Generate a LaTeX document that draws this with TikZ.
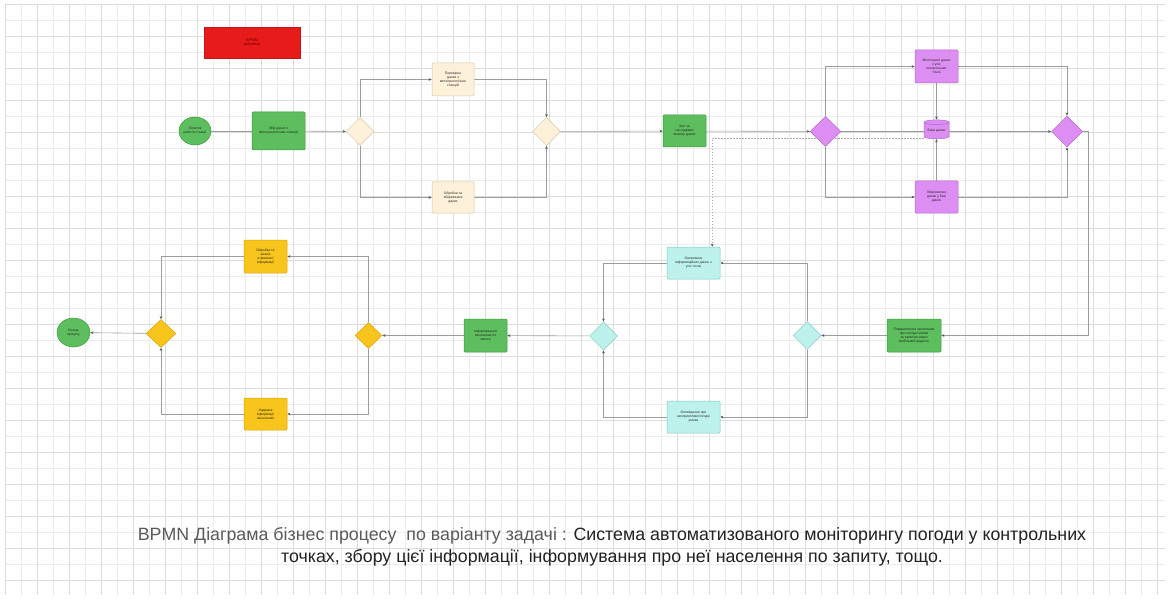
\documentclass[tikz,border=0pt]{standalone}
\usepackage{fontspec}
\setmainfont{Liberation Sans}
\usetikzlibrary{shapes.geometric,arrows.meta}
\definecolor{gfill}{HTML}{5DBE5D}
\definecolor{gline}{HTML}{3F9A3F}
\definecolor{bfill}{HTML}{FDF1DA}
\definecolor{bline}{HTML}{D8C8A2}
\definecolor{pfill}{HTML}{DC8EF2}
\definecolor{pline}{HTML}{B068C8}
\definecolor{cfill}{HTML}{BDF1EC}
\definecolor{cline}{HTML}{82C9C3}
\definecolor{yfill}{HTML}{F8C51C}
\definecolor{yline}{HTML}{D9A406}
\definecolor{rfill}{HTML}{E81B1B}
\definecolor{flowc}{HTML}{9C9C9C}
\definecolor{tipc}{HTML}{555555}
\definecolor{gridc}{HTML}{ECECEC}
\definecolor{gridm}{HTML}{DCDCDC}
\definecolor{captg}{HTML}{5A5A5A}
\definecolor{captd}{HTML}{222222}
\pgfdeclarelayer{bg}
\pgfdeclarelayer{edges}
\pgfsetlayers{bg,edges,main}
\begin{document}
\begin{tikzpicture}[x=1pt,y=-1pt,
  txt/.style={font=\fontsize{3.4}{4}\selectfont, text=black!85, align=center, inner sep=0.5pt},
  task/.style={txt, draw, rounded corners=1pt, line width=0.5pt},
  gtask/.style={task, fill=gfill, draw=gline},
  btask/.style={task, fill=bfill, draw=bline},
  ptask/.style={task, fill=pfill, draw=pline},
  ctask/.style={task, fill=cfill, draw=cline},
  ytask/.style={task, fill=yfill, draw=yline},
  gate/.style={diamond, draw, line width=0.5pt, minimum width=28pt, minimum height=28pt, inner sep=0pt},
  event/.style={txt, ellipse, fill=gfill, draw=gline, line width=0.5pt, inner sep=0pt},
  flow/.style={draw=flowc, line width=0.6pt, -{Stealth[length=3.2pt,width=2.6pt,color=tipc]}},
  plain/.style={draw=flowc, line width=0.6pt},
  assoc/.style={draw=flowc!85, line width=0.5pt, dash pattern=on 1.5pt off 1.5pt, -{Stealth[length=3.2pt,width=2.6pt,color=tipc]}}
]
\useasboundingbox (0,0) rectangle (1168,599);
\begin{pgfonlayer}{bg}
\fill[white] (0,0) rectangle (1168,599);
\foreach \x in {5,21,...,1165} \draw[gridc, line width=0.4pt] (\x,4) -- (\x,595);
\foreach \y in {4,20,...,595} \draw[gridc, line width=0.4pt] (5,\y) -- (1165,\y);
\foreach \x in {5,37,...,1165} \draw[gridm, line width=0.5pt] (\x,4) -- (\x,595);
\foreach \y in {4,36,...,595} \draw[gridm, line width=0.5pt] (5,\y) -- (1165,\y);
\end{pgfonlayer}

% title box
\node[fill=rfill, draw=rfill!85!black, minimum width=96pt, minimum height=31pt, font=\fontsize{4}{4.8}\selectfont, text=red!45!black, align=center] (title) at (252,42.5) {BPMN\\діаграма};

% top row
\node[event, minimum width=32pt, minimum height=28pt] (start) at (195,131) {Початок\\роботи станції};
\node[gtask, minimum width=53pt, minimum height=38pt] (g1) at (278.5,131) {Збір даних з\\метеорологічних станцій};
\node[gate, fill=bfill, draw=bline] (d1) at (360,131.5) {};
\node[btask, minimum width=42pt, minimum height=33pt] (b1) at (453,79.5) {Перевірка\\даних з\\метеорологічних\\станцій};
\node[btask, minimum width=42pt, minimum height=31pt] (b2) at (453,197.5) {Обробка та\\збереження\\даних};
\node[gate, fill=bfill, draw=bline] (d2) at (546.5,131.5) {};
\node[gtask, minimum width=43pt, minimum height=32pt] (g2) at (684.5,131) {Звіт за\\наслідками\\аналізу даних};
\node[gate, fill=pfill, draw=pline, minimum width=31pt, minimum height=30pt] (pd1) at (825.5,131.5) {};
\node[ptask, minimum width=43pt, minimum height=33pt] (p1) at (936.5,66.5) {Моніторинг даних\\з усіх\\контрольних\\точок};
\node[cylinder, shape border rotate=90, aspect=0.25, fill=pfill, draw=pline, line width=0.5pt, minimum width=25pt, minimum height=19pt, txt] (cyl) at (936.5,131) {База даних};
\node[ptask, minimum width=43pt, minimum height=32pt] (p2) at (936.5,197) {Збереження\\даних у базі\\даних};
\node[gate, fill=pfill, draw=pline, minimum width=31pt, minimum height=31pt] (pd2) at (1067,131.5) {};
\coordinate (c1) at (1088,131.5);

% bottom row
\node[gtask, minimum width=54pt, minimum height=33pt] (g3) at (914,335.5) {Повідомлення населенню\\про погодні умови\\за запитом через\\мобільний додаток};
\node[gate, fill=cfill, draw=cline] (cd2) at (807,335.5) {};
\node[ctask, minimum width=53pt, minimum height=32pt] (cy1) at (693.5,263) {Оновлення\\інформаційних даних з\\усіх точок};
\node[ctask, minimum width=53pt, minimum height=32pt] (cy2) at (693.5,417) {Оповіщення про\\несприятливі погодні\\умови};
\node[gate, fill=cfill, draw=cline] (cd1) at (603.5,336) {};
\node[gtask, minimum width=43pt, minimum height=33pt] (g4) at (485.5,335.5) {Інформування\\населення по\\запиту};
\node[gate, fill=yfill, draw=yline, minimum width=27pt, minimum height=26pt] (yd2) at (368.5,335.5) {};
\node[ytask, minimum width=43pt, minimum height=33pt] (y1) at (265.5,256.5) {Обробка та\\аналіз\\отриманої\\інформації};
\node[ytask, minimum width=43pt, minimum height=32pt] (y2) at (265.5,414) {Надання\\інформації\\населенню};
\node[gate, fill=yfill, draw=yline, minimum width=30pt, minimum height=28pt] (yd1) at (161,333.5) {};
\node[event, minimum width=33pt, minimum height=29pt] (end) at (73.5,332.5) {Кінець\\процесу};

% connectors
\begin{pgfonlayer}{edges}
\draw[plain] (start) -- (g1);
\draw[flow] (g1) -- (d1);
\draw[flow] (d1.north) |- (b1.west);
\draw[flow] (d1.south) |- (b2.west);
\draw[flow] (b1.east) -| (d2.north);
\draw[flow] (b2.east) -| (d2.south);
\draw[flow] (d2) -- (g2);
\draw[flow] (g2) -- (pd1);
\draw[flow] (pd1.north) |- (p1.west);
\draw[flow] (pd1.south) |- (p2.west);
\draw[flow] (pd1.east) -- (pd2.west);
\draw[flow] (p1.south) -- (cyl.north);
\draw[flow] (p2.north) -- (cyl.south);
\draw[flow] (p1.east) -| (pd2.north);
\draw[flow] (p2.east) -| (pd2.south);
\draw[flow] (pd2.east) -- (c1) |- (g3.east);
\draw[flow] (g3) -- (cd2);
\draw[flow] (cd2.north) |- (cy1.east);
\draw[flow] (cd2.south) |- (cy2.east);
\draw[flow] (cy1.west) -| (cd1.north);
\draw[flow] (cy2.west) -| (cd1.south);
\draw[flow] (cd1) -- (g4);
\draw[flow] (g4) -- (yd2);
\draw[flow] (yd2.north) |- (y1.east);
\draw[flow] (yd2.south) |- (y2.east);
\draw[flow] (y1.west) -| (yd1.north);
\draw[flow] (y2.west) -| (yd1.south);
\draw[flow] (yd1) -- (end);
\draw[assoc] ([yshift=-7pt]cyl.west) -| ([xshift=-8pt]cy1.north east);
\end{pgfonlayer}

% caption
\node[font=\fontsize{17.8}{22}\selectfont, align=center, text=captd, inner sep=0pt] (caption) at (612,547) {{\color{captg}BPMN Діаграма бізнес процесу\ \ по варіанту задачі :} Система автоматизованого моніторингу погоди у контрольних\\точках, збору цієї інформації, інформування про неї населення по запиту, тощо.};
\end{tikzpicture}
\end{document}
